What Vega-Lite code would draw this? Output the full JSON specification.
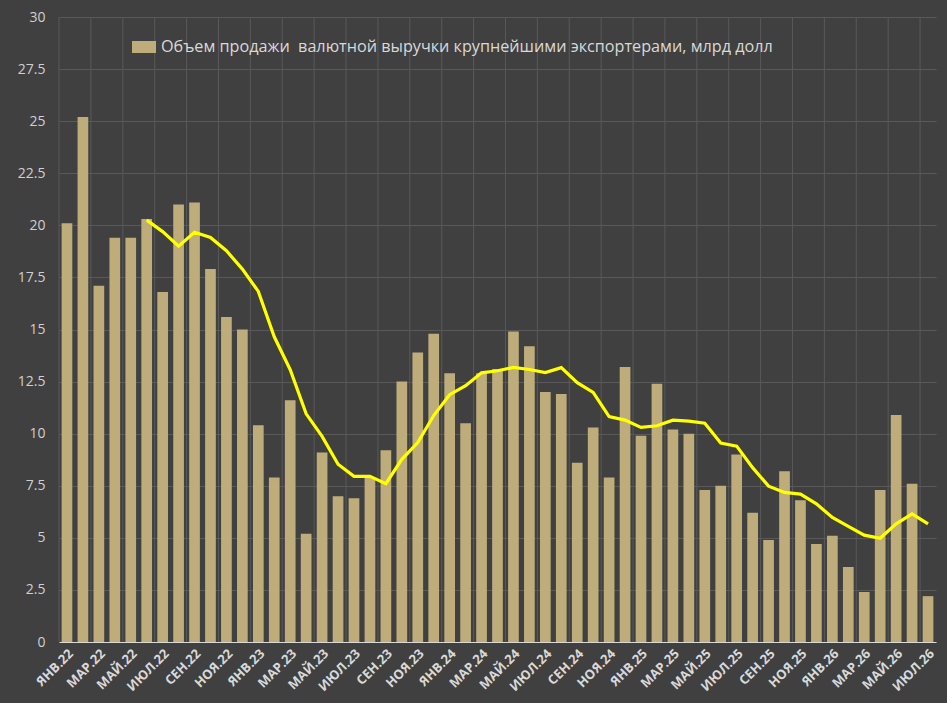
{
  "$schema": "https://vega.github.io/schema/vega-lite/v6.json",
  "autosize": "none",
  "width": 877,
  "height": 625,
  "padding": {"left": 59, "top": 17, "right": 11, "bottom": 61},
  "background": "#404040",
  "config": {
    "view": {"stroke": null},
    "font": "Open Sans"
  },
  "data": {
    "values": [
      {"m": "ЯНВ.22", "v": 20.1, "ma": null},
      {"m": "ФЕВ.22", "v": 25.2, "ma": null},
      {"m": "МАР.22", "v": 17.1, "ma": null},
      {"m": "АПР.22", "v": 19.4, "ma": null},
      {"m": "МАЙ.22", "v": 19.4, "ma": null},
      {"m": "ИЮН.22", "v": 20.3, "ma": 20.25},
      {"m": "ИЮЛ.22", "v": 16.8, "ma": 19.7},
      {"m": "АВГ.22", "v": 21.0, "ma": 19.0},
      {"m": "СЕН.22", "v": 21.1, "ma": 19.67},
      {"m": "ОКТ.22", "v": 17.9, "ma": 19.42},
      {"m": "НОЯ.22", "v": 15.6, "ma": 18.78},
      {"m": "ДЕК.22", "v": 15.0, "ma": 17.9},
      {"m": "ЯНВ.23", "v": 10.4, "ma": 16.83},
      {"m": "ФЕВ.23", "v": 7.9, "ma": 14.65},
      {"m": "МАР.23", "v": 11.6, "ma": 13.07},
      {"m": "АПР.23", "v": 5.2, "ma": 10.95},
      {"m": "МАЙ.23", "v": 9.1, "ma": 9.87},
      {"m": "ИЮН.23", "v": 7.0, "ma": 8.53},
      {"m": "ИЮЛ.23", "v": 6.9, "ma": 7.95},
      {"m": "АВГ.23", "v": 7.9, "ma": 7.95},
      {"m": "СЕН.23", "v": 9.2, "ma": 7.6},
      {"m": "ОКТ.23", "v": 12.5, "ma": 8.77},
      {"m": "НОЯ.23", "v": 13.9, "ma": 9.57},
      {"m": "ДЕК.23", "v": 14.8, "ma": 10.87},
      {"m": "ЯНВ.24", "v": 12.9, "ma": 11.87},
      {"m": "ФЕВ.24", "v": 10.5, "ma": 12.3},
      {"m": "МАР.24", "v": 12.9, "ma": 12.92},
      {"m": "АПР.24", "v": 13.1, "ma": 13.02},
      {"m": "МАЙ.24", "v": 14.9, "ma": 13.18},
      {"m": "ИЮН.24", "v": 14.2, "ma": 13.08},
      {"m": "ИЮЛ.24", "v": 12.0, "ma": 12.93},
      {"m": "АВГ.24", "v": 11.9, "ma": 13.17},
      {"m": "СЕН.24", "v": 8.6, "ma": 12.45},
      {"m": "ОКТ.24", "v": 10.3, "ma": 11.98},
      {"m": "НОЯ.24", "v": 7.9, "ma": 10.82},
      {"m": "ДЕК.24", "v": 13.2, "ma": 10.65},
      {"m": "ЯНВ.25", "v": 9.9, "ma": 10.3},
      {"m": "ФЕВ.25", "v": 12.4, "ma": 10.38},
      {"m": "МАР.25", "v": 10.2, "ma": 10.65},
      {"m": "АПР.25", "v": 10.0, "ma": 10.6},
      {"m": "МАЙ.25", "v": 7.3, "ma": 10.5},
      {"m": "ИЮН.25", "v": 7.5, "ma": 9.55},
      {"m": "ИЮЛ.25", "v": 9.0, "ma": 9.4},
      {"m": "АВГ.25", "v": 6.2, "ma": 8.37},
      {"m": "СЕН.25", "v": 4.9, "ma": 7.48},
      {"m": "ОКТ.25", "v": 8.2, "ma": 7.18},
      {"m": "НОЯ.25", "v": 6.8, "ma": 7.1},
      {"m": "ДЕК.25", "v": 4.7, "ma": 6.63},
      {"m": "ЯНВ.26", "v": 5.1, "ma": 5.98},
      {"m": "ФЕВ.26", "v": 3.6, "ma": 5.55},
      {"m": "МАР.26", "v": 2.4, "ma": 5.13},
      {"m": "АПР.26", "v": 7.3, "ma": 4.98},
      {"m": "МАЙ.26", "v": 10.9, "ma": 5.67},
      {"m": "ИЮН.26", "v": 7.6, "ma": 6.15},
      {"m": "ИЮЛ.26", "v": 2.2, "ma": 5.67}
    ]
  },
  "encoding": {
    "x": {
      "field": "m",
      "type": "nominal",
      "sort": null,
      "title": null,
      "scale": {"paddingInner": 0, "paddingOuter": 0},
      "axis": {
        "grid": false,
        "ticks": false,
        "domainColor": "#d9d9d9",
        "domainWidth": 1.2,
        "labelAngle": -45,
        "labelAlign": "right",
        "labelBaseline": "top",
        "labelPadding": 5,
        "labelFontSize": 13,
        "labelFontWeight": "bold",
        "labelColor": "#d9d9d9",
        "labelExpr": "indexof(['ЯНВ','МАР','МАЙ','ИЮЛ','СЕН','НОЯ'], split(datum.value, '.')[0]) >= 0 ? datum.value : ''"
      }
    }
  },
  "layer": [
    {
      "mark": {"type": "rule", "color": "#595959", "strokeWidth": 1},
      "encoding": {
        "x": {"field": "m", "type": "nominal", "sort": null, "bandPosition": 0},
        "strokeOpacity": {
          "condition": {"test": "indexof(['ЯНВ','МАР','МАЙ','ИЮЛ','СЕН','НОЯ'], split(datum.m, '.')[0]) >= 0", "value": 1},
          "value": 0
        }
      }
    },
    {
      "mark": {"type": "bar", "width": {"band": 0.67}},
      "encoding": {
        "y": {
          "field": "v",
          "type": "quantitative",
          "title": null,
          "scale": {"domain": [0, 30], "nice": false},
          "axis": {
            "values": [0, 2.5, 5, 7.5, 10, 12.5, 15, 17.5, 20, 22.5, 25, 27.5, 30],
            "format": ".1~f",
            "domain": false,
            "ticks": false,
            "gridColor": "#595959",
            "gridWidth": 1,
            "labelPadding": 14,
            "labelFontSize": 14,
            "labelColor": "#cfcfcf"
          }
        },
        "color": {
          "datum": "Объем продажи\u00a0 валютной выручки крупнейшими экспортерами, млрд долл",
          "type": "nominal",
          "scale": {"range": ["#BEAD7B"]},
          "legend": {
            "title": null,
            "orient": "none",
            "legendX": 73,
            "legendY": 18,
            "symbolType": "M-1,-0.5H1V0.5H-1Z",
            "symbolSize": 576,
            "symbolStrokeWidth": 0,
            "labelFontSize": 16.2,
            "labelColor": "#d9d9d9",
            "labelOffset": 5,
            "labelLimit": 800
          }
        }
      }
    },
    {
      "mark": {"type": "line", "color": "#FFFF00", "strokeWidth": 3.2},
      "encoding": {
        "y": {"field": "ma", "type": "quantitative"}
      }
    }
  ]
}
